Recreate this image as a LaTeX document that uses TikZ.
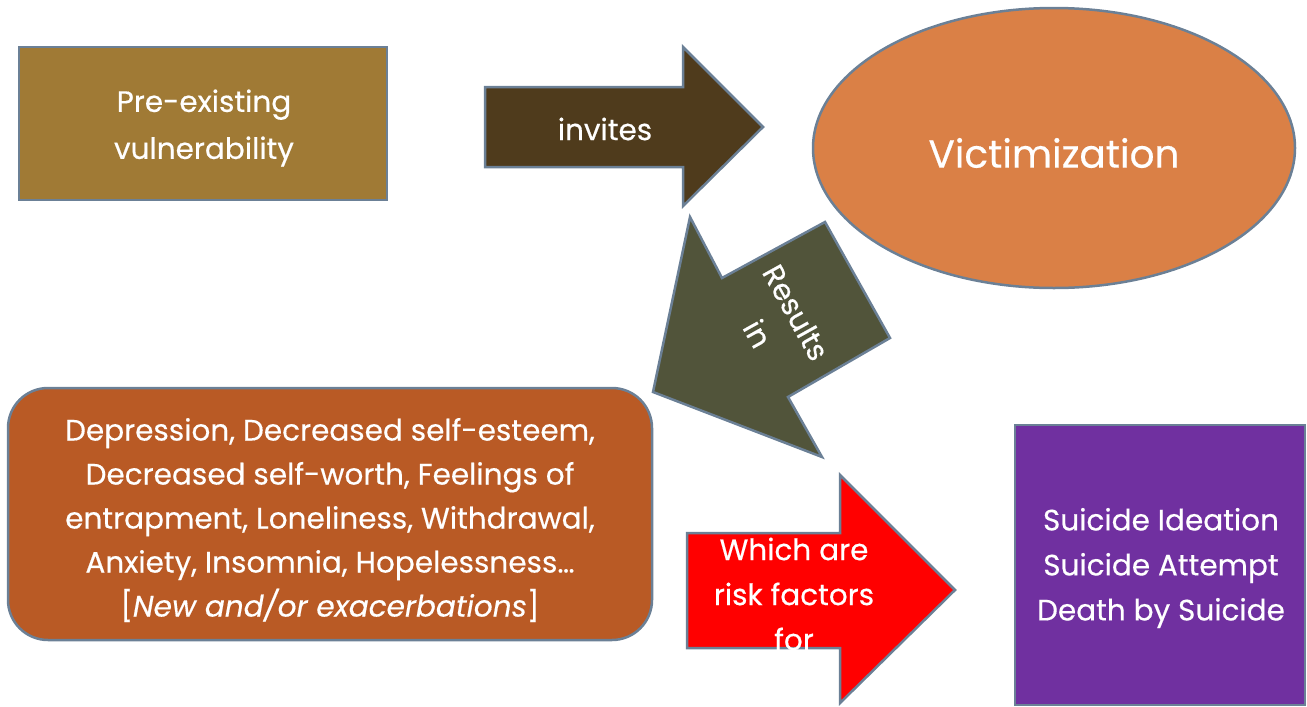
\documentclass[tikz,border=0pt]{standalone}
\usepackage{fontspec}
\setmainfont{Poppins}[FakeBold=0.4]
\definecolor{bordergray}{HTML}{6B8096}
\definecolor{prefill}{HTML}{A07A35}
\definecolor{invfill}{HTML}{4F3B1C}
\definecolor{vicfill}{HTML}{DA8046}
\definecolor{resfill}{HTML}{51543A}
\definecolor{efffill}{HTML}{B95A25}
\definecolor{riskfill}{HTML}{FF0000}
\definecolor{outfill}{HTML}{7030A0}
\begin{document}
\begin{tikzpicture}[x=1pt,y=-1pt,
  shapeborder/.style={draw=bordergray, line width=2.5pt, line join=miter},
  lbl/.style={text=white, align=center, inner sep=0pt, font=\fontsize{29.5}{44}\selectfont}]
\useasboundingbox (0,0) rectangle (1307,707);
% shapes
\draw[shapeborder, fill=prefill] (19,47) rectangle (387,200);
\draw[shapeborder, fill=invfill] (485,87) -- (683,87) -- (683,47) -- (763,127) -- (683,206) -- (683,167) -- (485,167) -- cycle;
\draw[shapeborder, fill=vicfill] (1054,148) ellipse [x radius=241, y radius=140];
\draw[shapeborder, fill=resfill] (825,222) -- (890,338) -- (788,397) -- (822,457) -- (653,392) -- (690,217) -- (722,278) -- cycle;
\draw[shapeborder, fill=efffill, rounded corners=40pt] (8,388) rectangle (652,640);
\draw[shapeborder, fill=riskfill] (687,533) -- (840,533) -- (840,475) -- (955,590) -- (840,703) -- (840,648) -- (687,648) -- cycle;
\draw[shapeborder, fill=outfill] (1015,425) rectangle (1305,705);
% labels
\node[lbl, font=\fontsize{29.5}{47}\selectfont] (pre) at (204,128) {Pre-existing\\vulnerability};
\node[lbl] (inv) at (605,129) {invites};
\node[lbl, font=\fontsize{39}{48}\selectfont] (vic) at (1054,153) {Victimization};
\node[lbl, rotate=-61] (res) at (777,323) {Results\\in};
\node[lbl] (eff) at (330,520) {Depression, Decreased self-esteem,\\Decreased self-worth, Feelings of\\entrapment, Loneliness, Withdrawal,\\Anxiety, Insomnia, Hopelessness\ldots\\{}[\textit{New and/or exacerbations}]};
\node[lbl, font=\fontsize{29.5}{45}\selectfont] (risk) at (794,594) {Which are\\risk factors\\for};
\node[lbl, font=\fontsize{29.5}{45}\selectfont] (out) at (1161,568) {Suicide Ideation\\Suicide Attempt\\Death by Suicide};
\end{tikzpicture}
\end{document}
